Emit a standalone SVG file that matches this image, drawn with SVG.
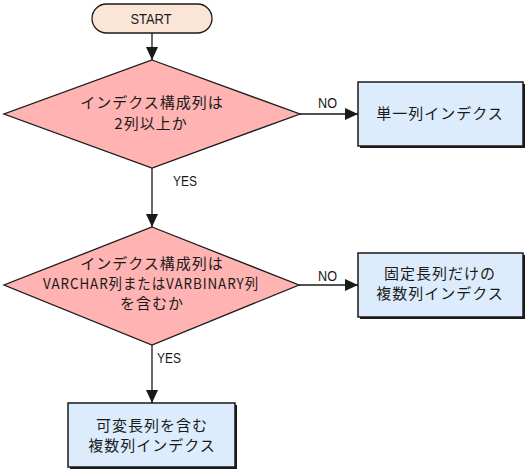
<svg xmlns="http://www.w3.org/2000/svg" width="528" height="472" viewBox="0 0 528 472">
<style>
.jp{font-family:"Noto Sans CJK JP","Noto Sans",sans-serif;font-size:15px;fill:#1a1a1a;text-anchor:middle;letter-spacing:1px}
.lb{font-family:"Liberation Sans",Arial,sans-serif;font-size:14px;fill:#1a1a1a}
.dia{fill:#ffb3b3;stroke:#1a1a1a;stroke-width:1.3}
.box{fill:#dcecfc;stroke:#1a1a1a;stroke-width:1.5}
.shadow{fill:#1a1a1a}
.con{stroke:#1a1a1a;stroke-width:1.3;fill:none}
</style>
<defs>
<marker id="ah" markerUnits="userSpaceOnUse" markerWidth="13" markerHeight="12" refX="13" refY="6" orient="auto">
<path d="M0,0 L13,6 L0,12 z" fill="#1a1a1a"/>
</marker>
</defs>
<g id="connectors">
<line class="con" x1="152" y1="33" x2="152" y2="60" marker-end="url(#ah)"/>
<line class="con" x1="152" y1="168" x2="152" y2="227" marker-end="url(#ah)"/>
<line class="con" x1="300" y1="114" x2="358" y2="114" marker-end="url(#ah)"/>
<line class="con" x1="299" y1="285" x2="358" y2="285" marker-end="url(#ah)"/>
<line class="con" x1="152" y1="345" x2="152" y2="403" marker-end="url(#ah)"/>
<text class="lb" x="173" y="186" textLength="24" lengthAdjust="spacingAndGlyphs">YES</text>
<text class="lb" x="318" y="108" textLength="19" lengthAdjust="spacingAndGlyphs">NO</text>
<text class="lb" x="318" y="281" textLength="19" lengthAdjust="spacingAndGlyphs">NO</text>
<text class="lb" x="157" y="363" textLength="24" lengthAdjust="spacingAndGlyphs">YES</text>
</g>
<g id="start">
<rect x="92" y="4" width="120" height="29" rx="14.5" fill="#fbe5d6" stroke="#1a1a1a" stroke-width="1.3"/>
<text x="151" y="24" font-family="Liberation Sans,Arial,sans-serif" font-size="15" fill="#1a1a1a" text-anchor="middle" textLength="41" lengthAdjust="spacingAndGlyphs">START</text>
</g>
<g id="decision1">
<polygon class="dia" points="152,60 300,114 152,168 4,114"/>
<text class="jp" x="152" y="108">インデクス構成列は</text>
<text class="jp" x="151" y="129">2列以上か</text>
</g>
<g id="decision2">
<polygon class="dia" points="152,227 299,285 152,345 4,285"/>
<text class="jp" x="152" y="269">インデクス構成列は</text>
<text class="jp" x="151" y="289" letter-spacing="0" textLength="216" lengthAdjust="spacingAndGlyphs">VARCHAR列またはVARBINARY列</text>
<text class="jp" x="152" y="309">を含むか</text>
</g>
<g id="single">
<rect class="shadow" x="360" y="84" width="165" height="64"/>
<rect class="box" x="358" y="82" width="165" height="64"/>
<text class="jp" x="440" y="119">単一列インデクス</text>
</g>
<g id="fixed">
<rect class="shadow" x="360" y="255" width="165" height="64"/>
<rect class="box" x="358" y="253" width="165" height="64"/>
<text class="jp" x="440" y="279">固定長列だけの</text>
<text class="jp" x="440" y="299">複数列インデクス</text>
</g>
<g id="variable">
<rect class="shadow" x="70" y="405" width="167" height="64"/>
<rect class="box" x="68" y="403" width="167" height="64"/>
<text class="jp" x="152" y="431">可変長列を含む</text>
<text class="jp" x="152" y="451">複数列インデクス</text>
</g>
</svg>
